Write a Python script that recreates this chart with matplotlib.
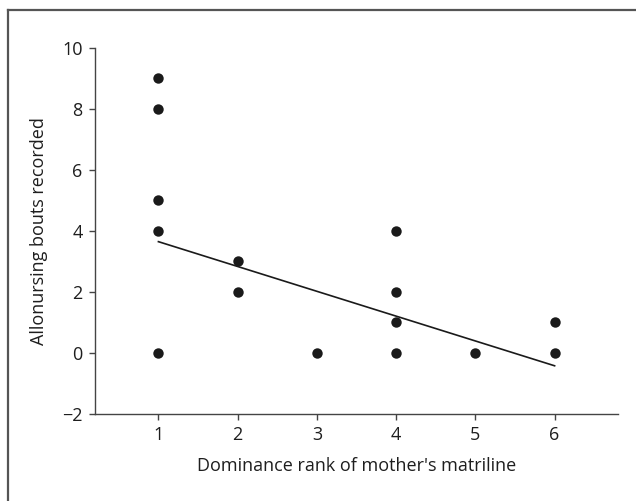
import numpy as np
import matplotlib.pyplot as plt
import matplotlib as mpl
from matplotlib.lines import Line2D

mpl.rc('font', size=13, family='Open Sans')

# dominance rank of mother's matriline vs allonursing bouts
rank = [1, 1, 1, 1, 1, 2, 2, 3, 4, 4, 4, 4, 5, 6, 6]
bouts = [0, 4, 5, 8, 9, 2, 3, 0, 0, 1, 2, 4, 0, 0, 1]

# fitted line endpoints
fit_x = [1, 6]
fit_y = [3.65, -0.42]

fig = plt.figure(figsize=(6.36, 5.01), dpi=100)
ax = fig.add_axes([0.1494, 0.1737, 0.8223, 0.7305])

ax.plot(rank, bouts, 'o', color='#1a1a1a', ms=7.5, mew=0)
ax.plot(fit_x, fit_y, '-', color='#1a1a1a', lw=1.2)

ax.set_xlim(0.2, 6.8)
ax.set_ylim(-2, 10)
ax.set_xticks([1, 2, 3, 4, 5, 6])
ax.set_yticks([-2, 0, 2, 4, 6, 8, 10])
ax.set_yticklabels(['\u22122', '0', '2', '4', '6', '8', '10'])
for s in ['top', 'right']:
    ax.spines[s].set_visible(False)
for s in ['left', 'bottom']:
    ax.spines[s].set_color('#444444')
    ax.spines[s].set_linewidth(1)
ax.tick_params(direction='out', length=4, width=1, color='#444444', labelcolor='#1e1e1e', pad=5)

ax.set_xlabel("Dominance rank of mother's matriline", color='#1e1e1e', labelpad=9)
ax.set_ylabel('Allonursing bouts recorded', color='#1e1e1e', labelpad=10)

# outer frame (left and top edges visible)
fx0, fy1 = 7.5/636, 1 - 9.5/501
fig.add_artist(Line2D([fx0, fx0], [-0.1, fy1], transform=fig.transFigure, color='#555555', lw=1.6))
fig.add_artist(Line2D([fx0, 1.1], [fy1, fy1], transform=fig.transFigure, color='#555555', lw=1.6))

plt.savefig('out.png', dpi=100)
